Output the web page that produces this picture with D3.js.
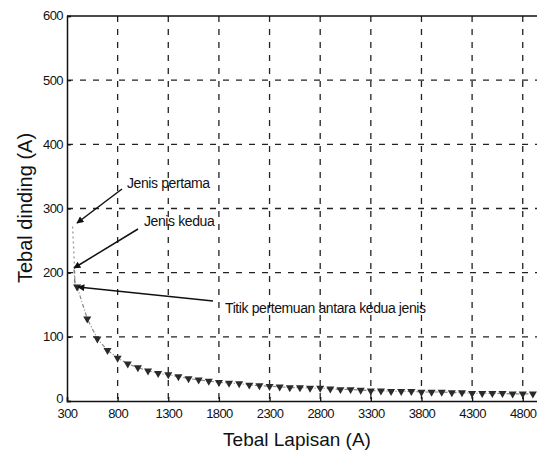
<!DOCTYPE html>
<html>
<head>
<meta charset="utf-8">
<script src="https://cdn.jsdelivr.net/npm/d3@7"></script>
<style>
  body { margin: 0; background: #fff; }
  svg { display: block; }
  text { font-family: "Liberation Sans", Arial, sans-serif; fill: #111; }
</style>
</head>
<body>
<div id="chart"></div>
<script>
// data
var lapisan = [400, 500, 600, 700, 800, 900, 1000, 1100, 1200, 1300, 1400, 1500, 1600, 1700, 1800, 1900,
               2000, 2100, 2200, 2300, 2400, 2500, 2600, 2700, 2800, 2900, 3000, 3100, 3200, 3300, 3400,
               3500, 3600, 3700, 3800, 3900, 4000, 4100, 4200, 4300, 4400, 4500, 4600, 4700, 4800, 4900];
var dinding = [178, 128, 97, 79, 67, 58, 52, 47, 43, 41, 38, 35, 33, 31, 29, 28,
               27, 25, 24, 23, 22, 21, 21, 20, 20, 19, 18, 18, 17, 16, 16,
               15, 15, 15, 14, 14, 14, 13, 13, 12, 12, 12, 12, 11, 11, 11];
var pertamaX = [355, 365, 375, 380];
var pertamaY = [272, 240, 205, 178];
var keduaX = [370, 380];
var keduaY = [205, 178];
var xTicks = [300, 800, 1300, 1800, 2300, 2800, 3300, 3800, 4300, 4800];
var yTicks = [0, 100, 200, 300, 400, 500, 600];

var width = 537, height = 451;
var svg = d3.select('#chart').append('svg')
    .attr('width', width).attr('height', height);

svg.append('rect').attr('width', width).attr('height', height).attr('fill', '#fff');

var x = d3.scaleLinear().domain([300, 5000]).range([67, 543]);
var y = d3.scaleLinear().domain([0, 600]).range([401, 16]);

// grid
svg.append('g').selectAll('line.gx')
   .data(xTicks.slice(1))
   .enter().append('line')
   .attr('x1', function(d) { return x(d); }).attr('x2', function(d) { return x(d); })
   .attr('y1', y(600)).attr('y2', y(0))
   .attr('stroke', '#222').attr('stroke-width', 1.3).attr('stroke-dasharray', '6,7');

svg.append('g').selectAll('line.gy')
   .data(yTicks.slice(1, -1))
   .enter().append('line')
   .attr('x1', x(300)).attr('x2', width)
   .attr('y1', function(d) { return y(d); }).attr('y2', function(d) { return y(d); })
   .attr('stroke', '#222').attr('stroke-width', 1.3).attr('stroke-dasharray', '6,7');

// axes
var xAxis = d3.axisBottom(x).tickValues(xTicks).tickSize(-4).tickPadding(8).tickFormat(d3.format('d'));
var yAxis = d3.axisLeft(y).tickValues(yTicks).tickSize(-4).tickPadding(4).tickFormat(d3.format('d'));

var gx = svg.append('g').attr('transform', 'translate(0,' + y(0) + ')').call(xAxis);
var gy = svg.append('g').attr('transform', 'translate(' + x(300) + ',0)').call(yAxis);
[gx, gy].forEach(function(g) {
  g.select('.domain').attr('stroke', '#111').attr('stroke-width', 1.5);
  g.selectAll('.tick line').attr('stroke', '#111').attr('stroke-width', 1.3);
  g.selectAll('.tick text').attr('font-size', 13).attr('fill', '#111')
   .style('font-family', '"Liberation Sans", Arial, sans-serif').attr('letter-spacing', -0.6);
});
gy.selectAll('.tick text').attr('dy', '0.3em');
gy.selectAll('.tick text').filter(function(d) { return d === 0; }).attr('dy', '0.15em');

// top border
svg.append('line')
   .attr('x1', x(300)).attr('x2', width).attr('y1', y(600)).attr('y2', y(600))
   .attr('stroke', '#111').attr('stroke-width', 1.5);

// axis titles
svg.append('text').attr('x', 297).attr('y', 446)
   .attr('text-anchor', 'middle').attr('font-size', 19).text('Tebal Lapisan (A)');
svg.append('text').attr('transform', 'translate(32,208) rotate(-90)')
   .attr('text-anchor', 'middle').attr('font-size', 20).text('Tebal dinding (A)');

// series lines
var line = d3.line().x(function(d) { return x(d[0]); }).y(function(d) { return y(d[1]); });

svg.append('path')
   .datum(d3.zip(pertamaX, pertamaY))
   .attr('d', line).attr('fill', 'none')
   .attr('stroke', '#999').attr('stroke-width', 1.3).attr('stroke-dasharray', '2,3');

svg.append('path')
   .datum(d3.zip(keduaX, keduaY))
   .attr('d', line).attr('fill', 'none')
   .attr('stroke', '#777').attr('stroke-width', 1.3).attr('stroke-dasharray', '4,2,1,2');

svg.append('path')
   .datum(d3.zip(lapisan, dinding))
   .attr('d', line).attr('fill', 'none')
   .attr('stroke', '#888').attr('stroke-width', 1.2).attr('stroke-dasharray', '4,2,1,2');

var tri = d3.symbol().type(d3.symbolTriangle).size(28);
svg.append('g').selectAll('path')
   .data(d3.zip(lapisan, dinding))
   .enter().append('path')
   .attr('d', tri)
   .attr('transform', function(d) { return 'translate(' + x(d[0]) + ',' + y(d[1]) + ') rotate(180)'; })
   .attr('fill', '#2a2a2a');

// annotations
var defs = svg.append('defs');
defs.append('marker').attr('id', 'ah')
   .attr('viewBox', '0 0 10 10').attr('refX', 9).attr('refY', 5)
   .attr('markerWidth', 9).attr('markerHeight', 7).attr('orient', 'auto')
   .attr('markerUnits', 'userSpaceOnUse')
   .append('path').attr('d', 'M0,0 L10,5 L0,10 z').attr('fill', '#111');

var notes = [
  {text: 'Jenis pertama', tx: 127, ty: 188, x1: 122, y1: 189, x2: 77, y2: 223},
  {text: 'Jenis kedua', tx: 144, ty: 226, x1: 138, y1: 229, x2: 74, y2: 268},
  {text: 'Titik pertemuan antara kedua jenis', tx: 225, ty: 313, x1: 213, y1: 301, x2: 78, y2: 287}
];
svg.append('g').selectAll('line')
   .data(notes).enter().append('line')
   .attr('x1', function(d) { return d.x1; }).attr('y1', function(d) { return d.y1; })
   .attr('x2', function(d) { return d.x2; }).attr('y2', function(d) { return d.y2; })
   .attr('stroke', '#111').attr('stroke-width', 1.5).attr('marker-end', 'url(#ah)');
svg.append('g').selectAll('text')
   .data(notes).enter().append('text')
   .attr('x', function(d) { return d.tx; }).attr('y', function(d) { return d.ty; })
   .attr('font-size', 14).attr('letter-spacing', -0.4).text(function(d) { return d.text; });
</script>
</body>
</html>
